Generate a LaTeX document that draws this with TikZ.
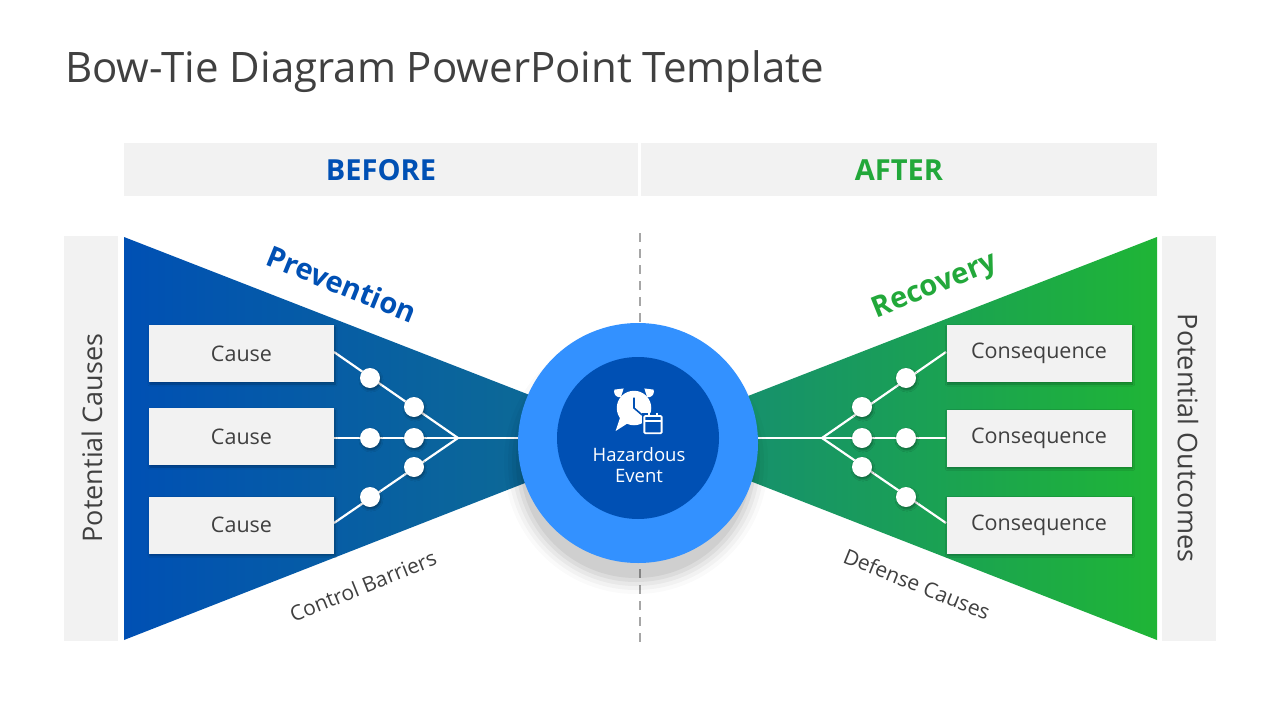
\documentclass[tikz,border=0pt]{standalone}
\usepackage{fontspec}
\setmainfont{Open Sans}
\usetikzlibrary{shadows.blur}
\definecolor{dblue}{HTML}{0050B4}
\definecolor{teal1}{HTML}{10708E}
\definecolor{lblue}{HTML}{3391FF}
\definecolor{dgreen}{HTML}{14877A}
\definecolor{lgreen}{HTML}{1FB536}
\definecolor{tgreen}{HTML}{22A83A}
\definecolor{lgray}{HTML}{F2F2F2}
\definecolor{tgray}{HTML}{404040}
\begin{document}
\begin{tikzpicture}[x=1pt,y=-1pt,
  box/.style={fill=lgray,minimum width=185pt,minimum height=57pt,inner sep=0,text=tgray,font=\fontsize{21.5}{24}\selectfont,blur shadow={shadow blur steps=6,shadow xshift=1pt,shadow yshift=-2pt,shadow opacity=30}},
  bar/.style={fill=lgray,draw=none},
  dot/.style={circle,fill=white,minimum size=20pt,inner sep=0,blur shadow={shadow blur steps=5,shadow xshift=1pt,shadow yshift=-2pt,shadow opacity=35}},
  wl/.style={white,line width=2.2pt},
  lbl/.style={text=tgray,font=\fontsize{21}{24}\selectfont}]
\useasboundingbox (0,0) rectangle (1280,720);
\fill[white] (0,0) rectangle (1280,720);
\node[anchor=base west,text=tgray,font=\fontsize{42}{50}\selectfont,inner sep=0] (title) at (65,82) {Bow-Tie Diagram PowerPoint Template};
% headers
\fill[bar] (124,143) rectangle (638,196);
\fill[bar] (641,143) rectangle (1157,196);
\node[text=dblue,font=\fontsize{29}{34}\selectfont\bfseries] (before) at (381,170) {BEFORE};
\node[text=tgreen,font=\fontsize{29}{34}\selectfont\bfseries] (after) at (899,170) {AFTER};
% side bars
\fill[bar] (64,236) rectangle (118,641);
\fill[bar] (1162,236) rectangle (1216,641);
\node[rotate=90,text=tgray,font=\fontsize{27}{30}\selectfont] (pc) at (92,438) {Potential Causes};
\node[rotate=-90,text=tgray,font=\fontsize{27}{30}\selectfont] (po) at (1188,438) {Potential Outcomes};
% dashed line
\draw[gray!70,line width=2pt,dash pattern=on 9pt off 7pt] (640,233) -- (640,643);
% triangles
\shade[left color=dblue,middle color=dblue!80!teal1,right color=teal1] (124,237) -- (640,438) -- (124,640) -- cycle;
\shade[left color=dgreen,right color=lgreen] (1157,237) -- (640,438) -- (1157,640) -- cycle;
% labels
\node[rotate=-22,text=dblue,font=\fontsize{29}{34}\selectfont\bfseries] (prev) at (342,284) {Prevention};
\node[rotate=22,text=tgreen,font=\fontsize{29}{34}\selectfont\bfseries] (rec) at (935,287) {Recovery};
\node[rotate=22,lbl] (cb) at (363,586) {Control Barriers};
\node[rotate=-22,lbl] (dc) at (917,584) {Defense Causes};
% networks
\coordinate (la) at (458,438);
\coordinate (ra) at (822,438);
\draw[wl] (334,352) -- (la) -- (334,523);
\draw[wl] (334,438) -- (640,438);
\draw[wl] (946,352) -- (ra) -- (946,523);
\draw[wl] (946,438) -- (640,438);
\foreach \p in {(370,378),(414,407),(370,438),(414,438),(414,467),(370,497),(906,378),(862,407),(862,438),(906,438),(862,467),(906,497)}
  \node[dot] at \p {};
% boxes
\node[box] (c1) at (241.5,353.5) {Cause};
\node[box] (c2) at (241.5,436.5) {Cause};
\node[box] (c3) at (241.5,525) {Cause};
\node[box] (q1) at (1039,353.5) {Consequence};
\node[box] (q2) at (1039,438) {Consequence};
\node[box] (q3) at (1039,525) {Consequence};
% central circle shadow
\foreach \r/\o in {132/0.02,128/0.03,124/0.04,120/0.05,116/0.06} 
  \fill[black,opacity=\o] (636,462) circle (\r);
\node[circle,fill=lblue,minimum size=240pt,inner sep=0] (outer) at (638,443) {};
\node[circle,fill=dblue,minimum size=162pt,inner sep=0] (inner) at (638,438) {};
\node[text=white,align=center,font=\fontsize{18.5}{21}\selectfont] (he) at (639,465) {Hazardous\\Event};
% icon
\begin{scope}[shift={(634,408)},scale=1.15]
  \fill[white] (-17,-16) arc (200:80:5) -- (-9,-17) -- cycle;
  \fill[white] (17,-16) arc (-20:100:5) -- (9,-17) -- cycle;
  \fill[white] (0,0) circle (15);
  \fill[white] (-12,8) -- (-16,20) -- (-5,13) -- cycle;
  \draw[dblue,line width=1.6pt] (0,-9) -- (0,0) -- (7,6);
  \fill[dblue] (7,4) rectangle (26,24);
  \draw[white,line width=1.8pt,rounded corners=1pt] (9,7) rectangle (24,22);
  \draw[white,line width=1.8pt] (9,11) -- (24,11);
  \draw[white,line width=1.6pt] (13,4) -- (13,8) (20,4) -- (20,8);
\end{scope}
\end{tikzpicture}
\end{document}
